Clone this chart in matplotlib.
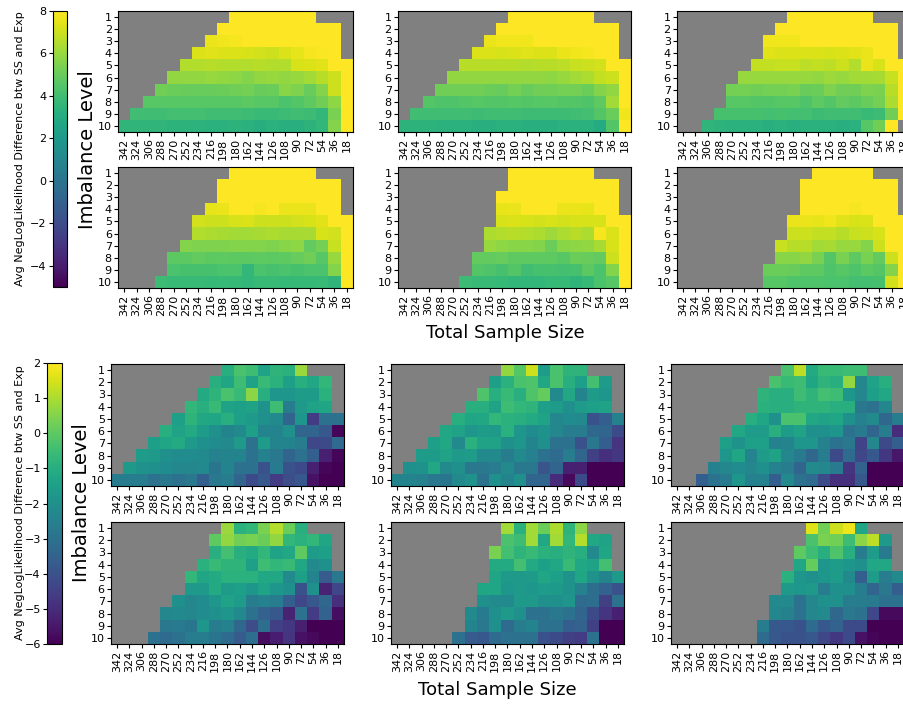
import numpy as np
import matplotlib
matplotlib.use("Agg")
import matplotlib.pyplot as plt

sizes = [342, 324, 306, 288, 270, 252, 234, 216, 198, 180, 162, 144, 126, 108, 90, 72, 54, 36, 18]
levels = [1, 2, 3, 4, 5, 6, 7, 8, 9, 10]

# each row: (first filled column, values from there on); the rest is missing
top_a1 = [
    (9, "8 8 8 8 8 8 8"),
    (8, "8 8 8 8 8 8 8 8 8 8"),
    (7, "7.6 7.7 7.8 8 8 8 8 8 8 8 8"),
    (6, "7.3 7.4 7.3 7.3 7.2 7.1 7.0 7.3 7.5 7.8 7.9 8"),
    (5, "6.5 6.5 6.6 6.5 6.5 6.5 6.6 6.5 6.5 7.2 7.3 7.4 8 8"),
    (4, "5.9 5.9 5.9 6.0 5.9 5.8 5.6 5.9 6.0 5.9 6.0 6.2 6.6 7.0 8"),
    (3, "5.2 5.1 5.0 5.0 5.0 5.1 5.2 5.3 5.0 5.1 5.7 5.5 5.0 5.6 7.0 8"),
    (2, "4.6 4.6 4.6 4.6 4.6 4.6 4.6 4.6 4.7 4.6 4.6 4.3 4.5 4.8 5.2 5.8 8"),
    (1, "4.0 4.0 4.0 4.1 4.1 4.1 4.0 4.0 4.0 3.9 3.8 3.8 3.9 4.0 3.9 3.6 5.4 8"),
    (0, "3.5 3.5 3.5 3.5 3.4 3.4 3.4 3.3 3.3 3.4 3.3 3.1 3.3 3.2 3.2 3.4 3.6 5.6 8"),
]
top_b1 = [
    (9, "8 8 8 8 8 8 8"),
    (8, "8 8 8 8 8 8 8 8 8 8"),
    (7, "7.6 7.7 7.7 7.7 8 8 8 8 8 8 8"),
    (6, "7.3 7.3 7.2 7.3 7.4 7.3 7.3 7.6 7.7 7.8 8 8"),
    (5, "6.6 6.6 6.6 6.6 6.6 6.5 6.6 6.6 6.7 6.9 7.0 7.1 8 8"),
    (4, "5.9 5.9 5.9 5.9 5.9 5.9 5.9 5.9 5.8 6.0 6.2 6.4 6.8 7.0 8"),
    (3, "5.2 5.2 5.2 5.2 5.1 5.0 5.3 5.0 5.2 5.2 5.3 5.3 5.1 5.6 5.9 8"),
    (2, "4.5 4.4 4.4 4.5 4.6 4.5 4.5 4.6 4.5 4.6 4.6 4.5 4.5 4.4 4.8 6.2 8"),
    (1, "4.0 4.0 4.0 4.0 4.0 3.9 4.0 4.0 4.0 3.9 3.9 3.9 3.9 4.0 4.1 4.5 5.1 7.7"),
    (0, "3.4 3.4 3.4 3.3 3.3 3.3 3.2 3.2 3.3 3.3 3.2 3.2 3.2 3.3 3.3 3.3 3.0 4.5 8"),
]
top_c1 = [
    (9, "8 8 8 8 8 8 8"),
    (8, "8 8 8 8 8 8 8 8 8 8"),
    (7, "7.7 7.7 7.7 8 8 8 8 8 8 8 8"),
    (7, "7.4 7.3 7.3 7.3 7.3 7.2 7.3 7.4 7.6 8 8"),
    (6, "6.8 6.8 6.9 6.9 6.7 6.8 6.7 7.0 6.5 7.6 7.2 8 8"),
    (5, "6.0 6.0 6.0 6.0 6.0 6.0 5.9 6.1 6.0 6.2 6.2 6.3 6.9 8"),
    (4, "5.3 5.3 5.2 5.3 5.3 5.4 5.0 5.1 5.5 5.2 5.2 5.5 5.4 6.6 8"),
    (4, "4.6 4.6 4.5 4.5 4.6 4.6 4.4 4.8 4.5 4.9 4.7 5.0 5.3 6.4 8"),
    (3, "4.2 4.2 4.2 4.2 4.1 4.2 4.1 4.1 3.9 4.0 4.0 4.0 3.8 3.9 5.2 8"),
    (2, "3.5 3.4 3.3 3.3 3.3 3.2 3.3 3.2 3.3 3.3 3.3 3.2 3.3 4.6 5.2 8"),
]
top_a2 = [
    (9, "8 8 8 8 8 8 8"),
    (8, "8 8 8 8 8 8 8 8 8 8"),
    (8, "8 8 8 8 8 8 8 8 8 8"),
    (7, "7.5 7.6 8 8 7.8 8 7.6 7.6 7.6 8 8"),
    (6, "7.1 7.0 7.0 7.2 7.3 7.0 7.0 7.0 7.1 7.2 7.4 8 8"),
    (6, "6.5 6.4 6.3 6.2 6.2 6.3 6.4 6.3 6.3 6.3 7.2 7.1 8"),
    (5, "5.6 5.5 5.5 5.5 5.6 5.6 5.6 5.5 5.7 5.8 4.9 5.3 6.9 8"),
    (4, "4.7 4.7 4.9 4.7 4.8 4.7 4.7 4.8 4.7 4.8 5.0 5.2 4.6 6.0 8"),
    (4, "4.3 4.2 4.2 4.2 4.3 4.3 3.6 4.3 4.2 4.3 4.2 4.3 4.3 5.6 8"),
    (3, "3.9 3.8 3.8 3.8 3.7 3.8 3.7 3.6 3.8 3.8 3.7 3.7 3.7 3.8 3.5 8"),
]
top_b2 = [
    (9, "8 8 8 8 8 8 8"),
    (9, "8 8 8 8 8 8 8 8 8"),
    (8, "8 8 8 8 8 8 8 8 8 8"),
    (8, "7.5 7.6 8 8 8 7.6 7.6 7.5 8 8"),
    (8, "7.2 7.3 7.2 7.1 7.2 7.1 7.2 7.2 7.2 8 8"),
    (7, "6.4 6.5 6.6 6.5 6.4 6.1 6.4 6.6 6.4 7.8 7.3 8"),
    (7, "6.0 5.8 5.7 5.7 5.6 5.1 5.7 5.8 5.9 6.3 7.2 8"),
    (6, "4.9 4.9 5.0 4.8 4.8 4.8 4.8 4.6 5.1 5.0 4.9 7.0 8"),
    (6, "4.5 4.4 4.2 4.5 4.0 4.2 4.2 4.1 4.2 4.7 4.3 5.6 8"),
    (5, "3.9 3.8 3.8 3.7 3.6 3.6 3.6 3.7 3.7 3.5 3.7 4.3 4.6 8"),
]
top_c2 = [
    (11, "8 8 8 8 8"),
    (10, "8 8 8 8 8 8 8 8"),
    (10, "8 8 8 8 8 8 8 8"),
    (10, "8 8 8 8 7.8 8 8 8"),
    (9, "7.6 7.6 7.5 7.7 7.4 7.2 7.3 8 8 8"),
    (9, "7.0 7.0 6.8 6.8 6.6 6.9 7.0 7.2 8 8"),
    (8, "6.9 6.6 6.6 6.2 6.3 6.0 6.0 5.6 7.0 8 8"),
    (8, "5.7 5.7 5.9 5.4 4.5 5.4 4.8 5.4 4.9 7.0 8"),
    (7, "5.1 5.1 5.0 4.8 4.8 4.4 4.6 4.4 4.7 4.5 5.6 8"),
    (7, "4.6 4.6 4.4 4.4 4.4 4.3 4.3 4.1 4.1 4.2 7.1 8"),
]

bot_d1 = [
    (9, "-1.0 -0.3 -0.5 -1.4 -0.8 -0.9 0.8"),
    (8, "-1.0 -1.3 -0.5 -1.4 -0.6 -0.9 -1.5 -1.0 -1.2 -0.7"),
    (7, "-1.1 -0.8 -0.3 -0.6 0.6 -1.0 -1.8 -1.8 -1.6 -1.6 -0.9"),
    (6, "-0.7 -1.0 -0.6 -1.4 -1.5 -1.4 -1.9 -0.5 -2.6 -1.7 -1.4 -1.3"),
    (5, "-1.5 -0.8 -1.2 -1.3 -1.0 -1.5 -1.7 -2.0 -2.2 -3.4 -1.8 -4.6 -3.0 -3.0"),
    (4, "-1.0 -1.4 -1.1 -1.6 -2.0 -2.4 -2.2 -1.5 -2.4 -2.4 -2.0 -3.4 -3.4 -3.8 -5.9"),
    (3, "-1.5 -1.3 -1.1 -1.7 -2.0 -2.1 -2.2 -1.7 -3.0 -1.6 -2.4 -2.4 -2.6 -4.3 -4.2 -3.2"),
    (2, "-1.6 -1.7 -2.0 -2.1 -2.1 -2.2 -2.5 -2.4 -2.4 -3.0 -2.5 -2.8 -3.4 -3.0 -3.6 -5.3 -5.9"),
    (1, "-1.7 -1.9 -2.0 -2.1 -2.3 -2.3 -2.2 -2.9 -2.4 -3.0 -3.0 -4.0 -2.7 -4.0 -4.2 -5.3 -5.9 -6.0"),
    (0, "-2.6 -2.6 -2.6 -3.0 -2.8 -3.0 -2.8 -3.6 -2.8 -2.6 -3.4 -4.2 -3.8 -4.6 -4.1 -3.8 -5.6 -6.0 -6.0"),
]
bot_e1 = [
    (9, "0.7 -0.1 1.4 -1.6 -0.3 -0.8 -0.8"),
    (8, "-1.5 -0.9 -0.3 -0.2 -1.2 -0.3 -1.0 -1.5 -0.4 -1.6"),
    (7, "-0.2 -1.0 -0.6 -1.0 -0.2 0.1 -2.2 -1.2 -2.4 -1.6 -1.8"),
    (6, "-1.0 -1.0 -1.4 -0.5 -0.7 -0.8 -1.5 -1.6 -2.0 -1.6 -1.5 -1.4"),
    (5, "-1.0 -1.3 -1.2 -0.7 -0.9 -1.0 -1.1 -1.4 -2.3 -2.1 -2.2 -4.0 -3.6 -2.5"),
    (4, "-1.2 -1.4 -1.8 -1.6 -1.7 -0.9 -1.8 -2.1 -1.9 -2.3 -2.6 -2.6 -3.3 -3.4 -4.2"),
    (3, "-1.5 -1.2 -2.2 -0.9 -1.4 -1.4 -2.0 -1.8 -2.4 -2.0 -3.0 -3.0 -4.0 -2.8 -3.6 -4.8"),
    (2, "-1.6 -1.6 -1.4 -1.7 -1.6 -2.2 -2.2 -2.6 -2.2 -2.5 -3.0 -3.2 -2.6 -3.4 -4.5 -4.9 -4.7"),
    (1, "-2.0 -1.9 -1.2 -2.2 -2.0 -2.8 -2.8 -2.6 -2.2 -2.8 -2.8 -3.9 -3.4 -5.3 -5.3 -6.0 -6.0 -6.0"),
    (0, "-2.4 -2.4 -2.5 -2.8 -2.9 -2.2 -1.9 -3.0 -2.0 -2.4 -2.0 -3.4 -3.4 -5.0 -5.8 -4.2 -6.0 -6.0 -6.0"),
]
bot_f1 = [
    (9, "-0.3 1.2 -1.1 -0.6 -0.6 -0.5 -0.5"),
    (8, "-0.3 -0.6 -0.5 -1.3 -0.8 -1.0 0.7 -2.3 -1.4 -1.0"),
    (7, "-0.8 -1.0 -1.0 -0.5 -0.8 -0.4 -0.5 -1.8 -2.3 -1.5 -1.2"),
    (7, "-0.9 -1.0 -1.0 -0.8 -0.8 -0.8 -1.0 -1.0 -2.8 -3.0 -2.3"),
    (6, "-1.0 -1.3 -2.0 -0.3 -0.3 -1.2 -1.4 -1.3 -2.0 -2.5 -2.2 -3.3 -2.6"),
    (5, "-1.2 -1.6 -1.6 -1.0 -1.6 -1.4 -2.0 -2.0 -1.8 -3.0 -2.7 -3.4 -2.6 -5.0"),
    (4, "-1.5 -1.9 -1.5 -1.5 -2.5 -2.4 -1.8 -1.8 -2.5 -3.0 -2.8 -4.4 -2.3 -4.2 -3.6"),
    (4, "-1.8 -1.3 -2.4 -1.6 -1.4 -2.3 -2.7 -3.3 -2.6 -4.2 -3.2 -4.3 -3.8 -4.7 -5.5"),
    (3, "-2.5 -2.3 -2.1 -2.3 -2.0 -2.5 -2.6 -3.4 -2.2 -2.3 -2.7 -4.8 -3.5 -6.0 -6.0 -6.0"),
    (2, "-3.6 -3.0 -2.7 -1.8 -2.5 -2.5 -3.6 -2.2 -3.0 -3.2 -4.2 -4.9 -4.9 -3.8 -6.0 -6.0 -6.0"),
]
bot_d2 = [
    (9, "0.8 -0.9 -0.7 0.4 1.1 0.2 -1.0"),
    (8, "0.0 0.7 0.3 0.4 0.2 0.7 -0.7 -0.9 -0.7 -1.3"),
    (8, "-1.0 -0.4 -1.0 -1.1 -0.7 -1.4 -1.2 0.0 -1.6 -1.5"),
    (7, "-0.9 -0.6 -0.8 -0.8 -1.5 -0.5 -0.7 -0.6 -1.2 -2.2 -2.0"),
    (6, "-0.7 -1.3 -1.1 -0.9 -0.9 -0.9 -1.2 -1.2 -2.2 -1.5 -2.4 -3.7 -2.8"),
    (6, "-1.7 -1.7 -1.1 -1.6 -1.5 -1.8 -1.4 -1.8 -2.0 -4.0 -2.0 -5.2 -4.3"),
    (5, "-2.0 -2.3 -2.1 -1.8 -1.4 -1.6 -2.6 -2.5 -2.6 -3.6 -4.3 -3.8 -3.3 -4.9"),
    (4, "-2.3 -2.2 -2.3 -2.1 -2.0 -1.8 -2.2 -3.0 -3.5 -3.8 -5.2 -3.0 -4.6 -3.5 -5.7"),
    (4, "-2.8 -2.7 -2.9 -1.8 -2.6 -2.5 -3.3 -4.1 -3.1 -4.5 -4.7 -5.3 -6.0 -6.0 -6.0"),
    (3, "-3.0 -3.2 -3.0 -2.6 -2.6 -2.9 -3.2 -3.7 -3.1 -5.7 -5.4 -4.8 -5.6 -5.8 -6.0 -6.0"),
]
bot_e2 = [
    (9, "0.9 -0.9 0.9 0.2 1.0 -0.8 0.6"),
    (9, "-0.3 -0.5 0.9 -1.2 0.9 -0.7 1.1 -1.2 -1.4"),
    (8, "0.4 -0.4 -0.8 -0.6 -0.9 -1.0 -0.8 -1.0 -2.2 -1.3"),
    (8, "-1.1 -1.1 -0.4 -1.1 -1.5 -1.2 -0.6 -1.2 -1.4 -0.4"),
    (8, "-1.3 -1.7 -1.7 -1.6 -1.3 -1.5 -1.9 -1.3 -1.9 -2.4 -1.7"),
    (7, "-1.3 -1.3 -1.8 -1.7 -1.8 -1.6 -1.7 -1.9 -2.5 -3.1 -3.5 -4.0"),
    (7, "-2.0 -2.2 -2.2 -1.7 -1.7 -2.0 -2.0 -1.8 -3.2 -3.1 -4.5 -3.0"),
    (6, "-2.2 -2.7 -2.0 -1.7 -2.0 -3.0 -3.0 -2.8 -3.0 -3.4 -4.2 -4.8 -5.3"),
    (6, "-2.4 -2.8 -2.0 -3.2 -2.6 -2.4 -3.0 -3.0 -3.6 -3.5 -4.5 -6.0 -6.0"),
    (5, "-3.0 -3.7 -3.8 -3.2 -3.0 -3.0 -3.0 -4.0 -4.2 -4.5 -4.6 -3.0 -6.0 -6.0"),
]
bot_f2 = [
    (11, "1.6 0.3 1.4 1.8 -1.3"),
    (11, "-0.3 0.4 0.3 -0.5 0.6 1.2 -1.7"),
    (10, "0.0 -0.5 -1.0 -0.2 -1.0 -2.6 -1.6 -2.7"),
    (10, "-1.3 0.1 -1.8 -1.6 -1.8 -2.0 -1.2 -1.2"),
    (9, "-0.9 -1.8 -2.0 -1.8 -1.6 -2.2 -3.6 -1.6 -2.6 -2.2"),
    (9, "-1.7 -1.8 -1.7 -2.6 -2.0 -2.0 -2.6 -3.4 -2.8 -3.6"),
    (8, "-2.2 -2.2 -3.0 -2.3 -2.0 -2.0 -2.6 -2.6 -2.7 -3.0 -3.0"),
    (8, "-2.3 -2.5 -3.0 -2.3 -2.2 -3.3 -2.8 -3.0 -4.3 -5.8 -5.8"),
    (7, "-2.6 -3.8 -3.8 -4.0 -3.2 -3.8 -3.5 -4.2 -4.2 -6.0 -6.0 -6.0"),
    (7, "-3.2 -3.8 -4.0 -4.0 -3.8 -4.3 -4.7 -4.2 -5.6 -5.9 -6.0 -6.0"),
]


def grid(rows):
    m = np.full((len(levels), len(sizes)), np.nan)
    for i, (start, vals) in enumerate(rows):
        v = [float(s) for s in vals.split()]
        m[i, start:start + len(v)] = v
    return m


W, H = 904, 706
fig = plt.figure(figsize=(W / 100, H / 100), dpi=100)

cmap = plt.get_cmap("viridis").copy()
cmap.set_bad("gray")


def box(x0, y0, x1, y1):
    return [x0 / W, 1 - y1 / H, (x1 - x0) / W, (y1 - y0) / H]


def panel(rect, data, vmin, vmax):
    ax = fig.add_axes(rect)
    im = ax.imshow(grid(data), cmap=cmap, vmin=vmin, vmax=vmax,
                   aspect="auto", interpolation="nearest")
    ax.set_xticks(range(len(sizes)))
    ax.set_xticklabels(sizes, rotation=90, fontsize=8)
    ax.set_yticks(range(len(levels)))
    ax.set_yticklabels(levels, fontsize=8)
    ax.tick_params(length=3, pad=1.5)
    return im


# top group
top_x = [(118, 353), (398, 631), (677, 910)]
top_y = [(11, 132), (167, 288)]
top_data = [[top_a1, top_b1, top_c1], [top_a2, top_b2, top_c2]]
for r in range(2):
    for c in range(3):
        im_top = panel(box(top_x[c][0], top_y[r][0], top_x[c][1], top_y[r][1]),
                       top_data[r][c], -5, 8)

# bottom group
bot_x = [(111, 344), (391, 624), (671, 904)]
bot_y = [(364, 486), (522, 644)]
bot_data = [[bot_d1, bot_e1, bot_f1], [bot_d2, bot_e2, bot_f2]]
for r in range(2):
    for c in range(3):
        im_bot = panel(box(bot_x[c][0], bot_y[r][0], bot_x[c][1], bot_y[r][1]),
                       bot_data[r][c], -6, 2)

for im, rect, ticks in [(im_top, box(53, 11, 67, 287), [-4, -2, 0, 2, 4, 6, 8]),
                        (im_bot, box(47, 363, 62, 644), [-6, -5, -4, -3, -2, -1, 0, 1, 2])]:
    cax = fig.add_axes(rect)
    cb = fig.colorbar(im, cax=cax, ticks=ticks)
    cax.yaxis.set_ticks_position("left")
    cax.tick_params(labelsize=8, length=3, pad=1.5)
    cb.outline.set_linewidth(0.8)

label = "Avg NegLogLikelihood Difference btw SS and Exp"
fig.text(20 / W, 1 - 149 / H, label, rotation=90, ha="center", va="center", fontsize=8)
fig.text(20 / W, 1 - 503 / H, label, rotation=90, ha="center", va="center", fontsize=8)

fig.text(88 / W, 1 - 150 / H, "Imbalance Level", rotation=90, ha="center", va="center", fontsize=14)
fig.text(82 / W, 1 - 503 / H, "Imbalance Level", rotation=90, ha="center", va="center", fontsize=14)
fig.text(505 / W, 1 - 333 / H, "Total Sample Size", ha="center", va="center", fontsize=13)
fig.text(497 / W, 1 - 690 / H, "Total Sample Size", ha="center", va="center", fontsize=13)

fig.savefig("out.png", dpi=100)
